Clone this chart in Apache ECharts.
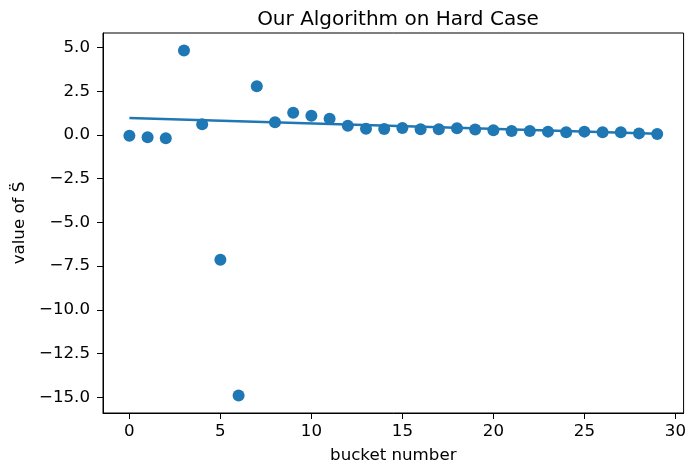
<!DOCTYPE html>
<html>
<head>
<meta charset="utf-8">
<script src="https://cdn.jsdelivr.net/npm/echarts@6/dist/echarts.min.js"></script>
<style>
  html, body { margin: 0; padding: 0; background: #fff; }
  #main { width: 689px; height: 470px; }
</style>
</head>
<body>
<div id="main"></div>
<script>
  // bucket index and S value
  var buckets = [0, 1, 2, 3, 4, 5, 6, 7, 8, 9, 10, 11, 12, 13, 14,
                 15, 16, 17, 18, 19, 20, 21, 22, 23, 24, 25, 26, 27, 28, 29];
  var sValues = [-0.04, -0.13, -0.19, 4.83, 0.61, -7.14, -14.9, 2.78, 0.72, 1.27,
                 1.10, 0.93, 0.53, 0.36, 0.34, 0.40, 0.32, 0.32, 0.38, 0.31,
                 0.27, 0.23, 0.23, 0.19, 0.16, 0.19, 0.15, 0.15, 0.09, 0.06];
  // fitted trend line endpoints
  var fitX = [0, 29];
  var fitY = [0.97, 0.07];
  var xTicks = [0, 5, 10, 15, 20, 25, 30];
  var yTicks = [-15, -12.5, -10, -7.5, -5, -2.5, 0, 2.5, 5];

  var blue = '#1f77b4';
  var font = 'DejaVu Sans';
  var fs = 16.67;

  function fmtY(v) {
    var s = Math.abs(v).toFixed(1);
    return v < 0 ? '\u2212' + s : s;
  }

  var chart = echarts.init(document.getElementById('main'));
  chart.setOption({
    animation: false,
    title: {
      text: 'Our Algorithm on Hard Case',
      left: 393, top: 5, textAlign: 'center',
      textStyle: { fontFamily: font, fontSize: 20, fontWeight: 'normal', color: '#000' }
    },
    grid: {
      left: 103, right: 4, top: 33, bottom: 57,
      show: true, borderColor: '#000', borderWidth: 1
    },
    xAxis: {
      type: 'value', min: -1.45, max: 30.45,
      name: 'bucket number', nameLocation: 'middle', nameGap: 34,
      nameTextStyle: { fontFamily: font, fontSize: fs, color: '#000' },
      axisLine: { show: true, onZero: false, lineStyle: { color: '#000', width: 1 } },
      axisTick: { show: true, length: 6, customValues: xTicks, lineStyle: { color: '#000' } },
      axisLabel: { customValues: xTicks, fontFamily: font, fontSize: fs, color: '#000', margin: 10 },
      splitLine: { show: false }
    },
    yAxis: {
      type: 'value', min: -15.9, max: 5.83,
      name: 'value of S\u0308', nameLocation: 'middle', nameGap: 70, nameRotate: 90,
      nameTextStyle: { fontFamily: font, fontSize: fs, color: '#000' },
      axisLine: { show: true, onZero: false, lineStyle: { color: '#000', width: 1 } },
      axisTick: { show: true, length: 6, customValues: yTicks, lineStyle: { color: '#000' } },
      axisLabel: { customValues: yTicks, formatter: fmtY, fontFamily: font, fontSize: fs, color: '#000', margin: 13 },
      splitLine: { show: false }
    },
    series: [
      {
        type: 'line',
        data: fitX.map(function (x, i) { return [x, fitY[i]]; }),
        showSymbol: false,
        lineStyle: { color: blue, width: 2.5 },
        z: 2
      },
      {
        type: 'scatter',
        data: buckets.map(function (b, i) { return [b, sValues[i]]; }),
        symbolSize: 12,
        itemStyle: { color: blue, opacity: 1 },
        z: 3
      }
    ]
  });
</script>
</body>
</html>
